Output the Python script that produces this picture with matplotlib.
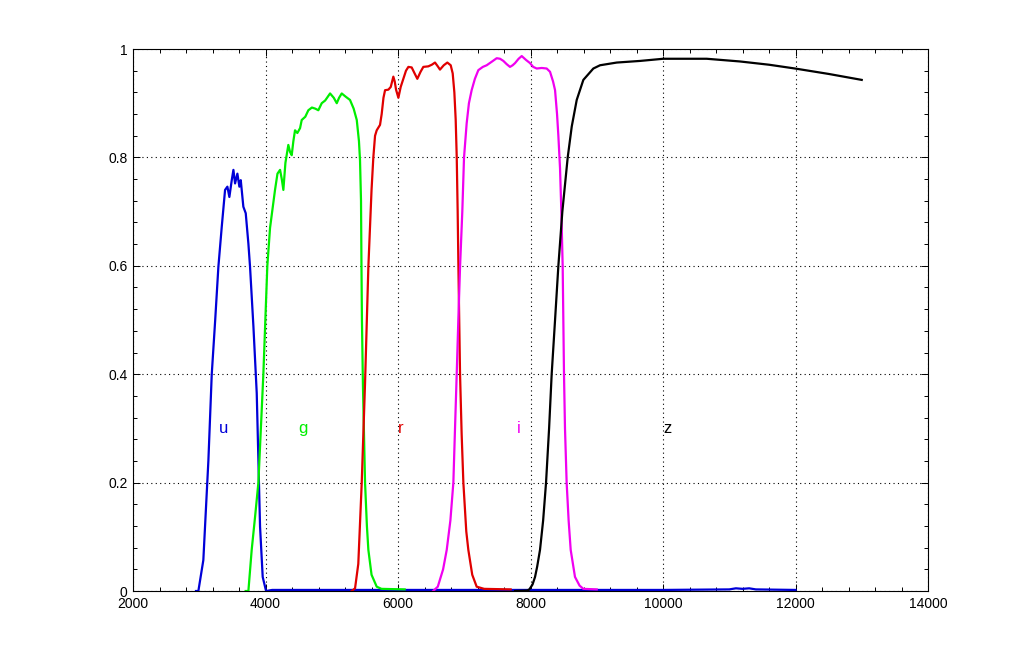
import numpy as np
import matplotlib
matplotlib.use('Agg')
import matplotlib.pyplot as plt
from matplotlib.ticker import MultipleLocator, FuncFormatter

plt.rcParams['font.family'] = ['Liberation Sans', 'DejaVu Sans']

# u filter
u_wl = [2950, 2986, 3061, 3112, 3137, 3188, 3240, 3288, 3339, 3389, 3424, 3454, 3490, 3515,
        3540, 3575, 3605, 3626, 3665, 3701, 3741, 3766, 3817, 3867, 3892, 3917, 3957, 4008,
        4100, 5000, 6000, 7000, 8000, 9000, 10000, 11000, 11100, 11200, 11300, 11400, 12000]
u_tr = [0.0, 0.0, 0.057, 0.18, 0.24, 0.40, 0.50, 0.598, 0.672, 0.74, 0.746, 0.727, 0.758, 0.777,
        0.752, 0.77, 0.746, 0.758, 0.709, 0.697, 0.641, 0.598, 0.488, 0.365, 0.242, 0.119, 0.026, 0.0,
        0.002, 0.002, 0.002, 0.002, 0.002, 0.002, 0.002, 0.003, 0.005, 0.004, 0.005, 0.003, 0.002]

# g filter
g_wl = [3700, 3741, 3791, 3842, 3892, 3967, 4027, 4068, 4100, 4143, 4180, 4219, 4245, 4269,
        4300, 4344, 4370, 4395, 4420, 4445, 4480, 4521, 4546, 4600, 4646, 4700, 4750, 4797,
        4848, 4900, 4974, 5030, 5075, 5110, 5150, 5210, 5275, 5330, 5377, 5410, 5426, 5441,
        5448, 5455, 5470, 5502, 5530, 5552, 5600, 5678, 5750, 6100]
g_tr = [0.0, 0.0, 0.076, 0.137, 0.2, 0.4, 0.6, 0.67, 0.70, 0.74, 0.77, 0.777, 0.76, 0.74,
        0.79, 0.823, 0.81, 0.804, 0.83, 0.85, 0.845, 0.854, 0.869, 0.875, 0.887, 0.892, 0.89, 0.887,
        0.90, 0.905, 0.918, 0.91, 0.90, 0.91, 0.918, 0.912, 0.906, 0.89, 0.869, 0.83, 0.795, 0.72,
        0.6, 0.5, 0.38, 0.2, 0.12, 0.076, 0.03, 0.008, 0.004, 0.003]

# r filter
r_wl = [5300, 5351, 5400, 5452, 5502, 5552, 5600, 5627, 5653, 5678, 5728, 5753, 5780, 5804,
        5854, 5890, 5929, 5950, 5970, 6005, 6040, 6080, 6120, 6156, 6206, 6250, 6291, 6340,
        6382, 6457, 6510, 6558, 6600, 6633, 6690, 6744, 6795, 6825, 6850, 6870, 6886, 6900,
        6911, 6936, 6960, 6986, 7030, 7061, 7120, 7187, 7300, 7700]
r_tr = [0.0, 0.005, 0.05, 0.2, 0.384, 0.598, 0.74, 0.8, 0.84, 0.85, 0.86, 0.88, 0.91, 0.924,
        0.925, 0.93, 0.949, 0.94, 0.925, 0.91, 0.93, 0.945, 0.96, 0.967, 0.966, 0.955, 0.945, 0.958,
        0.967, 0.968, 0.971, 0.975, 0.968, 0.962, 0.97, 0.975, 0.97, 0.955, 0.92, 0.87, 0.80, 0.70,
        0.60, 0.40, 0.29, 0.2, 0.11, 0.076, 0.03, 0.008, 0.004, 0.003]

# i filter
i_wl = [6530, 6600, 6680, 6735, 6790, 6835, 6860, 6886, 6910, 6936, 6970, 6996, 7036, 7070,
        7111, 7160, 7212, 7280, 7338, 7420, 7489, 7540, 7590, 7640, 7690, 7730, 7766, 7820,
        7867, 7930, 7992, 8040, 8093, 8170, 8244, 8294, 8340, 8370, 8400, 8420, 8445, 8465,
        8485, 8505, 8520, 8545, 8575, 8606, 8671, 8740, 8797, 8999]
i_tr = [0.0, 0.008, 0.04, 0.076, 0.13, 0.2, 0.3, 0.402, 0.5, 0.598, 0.7, 0.8, 0.863, 0.9,
        0.924, 0.945, 0.961, 0.967, 0.970, 0.977, 0.983, 0.982, 0.978, 0.972, 0.967, 0.97, 0.974, 0.982,
        0.987, 0.98, 0.974, 0.967, 0.964, 0.965, 0.964, 0.958, 0.94, 0.924, 0.88, 0.84, 0.78, 0.70,
        0.6, 0.4, 0.3, 0.2, 0.13, 0.076, 0.026, 0.01, 0.004, 0.003]

# z filter
z_wl = [7766, 7950, 7982, 8030, 8068, 8100, 8143, 8190, 8234, 8280, 8319, 8370, 8420, 8480,
        8561, 8622, 8697, 8797, 8948, 9049, 9301, 9653, 10004, 10659, 11162, 11600, 11992, 12500, 12999]
z_tr = [0.0, 0.001, 0.003, 0.012, 0.026, 0.045, 0.076, 0.13, 0.2, 0.3, 0.4, 0.5, 0.6, 0.7,
        0.8, 0.857, 0.906, 0.943, 0.964, 0.970, 0.975, 0.978, 0.982, 0.982, 0.977, 0.971, 0.964, 0.954, 0.943]

names = ['u', 'g', 'r', 'i', 'z']
label_x = [3300, 4500, 6000, 7800, 10000]
label_y = 0.3
colors = ['#0000d8', '#00ee00', '#e00000', '#f000f0', '#000000']

fig = plt.figure(figsize=(10.25, 6.64), dpi=100)
ax = fig.add_axes([0.1298, 0.1099, 0.7756, 0.8163])

curves = [(u_wl, u_tr), (g_wl, g_tr), (r_wl, r_tr), (i_wl, i_tr), (z_wl, z_tr)]
for (wl, tr), c in zip(curves, colors):
    ax.plot(wl, tr, color=c, lw=1.6)

for n, lx, c in zip(names, label_x, colors):
    ax.text(lx, label_y, n, color=c, fontsize=12, ha='left', va='center')

ax.set_xlim(2000, 14000)
ax.set_ylim(0, 1)
ax.xaxis.set_major_locator(MultipleLocator(2000))
ax.xaxis.set_minor_locator(MultipleLocator(400))
ax.yaxis.set_major_locator(MultipleLocator(0.2))
ax.yaxis.set_minor_locator(MultipleLocator(0.04))
ax.yaxis.set_major_formatter(FuncFormatter(lambda v, p: '%g' % round(v, 2)))

ax.tick_params(which='both', direction='in', top=True, right=True, labelsize=10, width=0.7)
ax.tick_params(which='major', length=5, pad=4)
ax.tick_params(which='minor', length=3)
ax.grid(True, which='major', color='k', linestyle=(0, (1, 3)), linewidth=0.8)
for s in ax.spines.values():
    s.set_linewidth(0.8)

fig.savefig('out.png', dpi=100)
